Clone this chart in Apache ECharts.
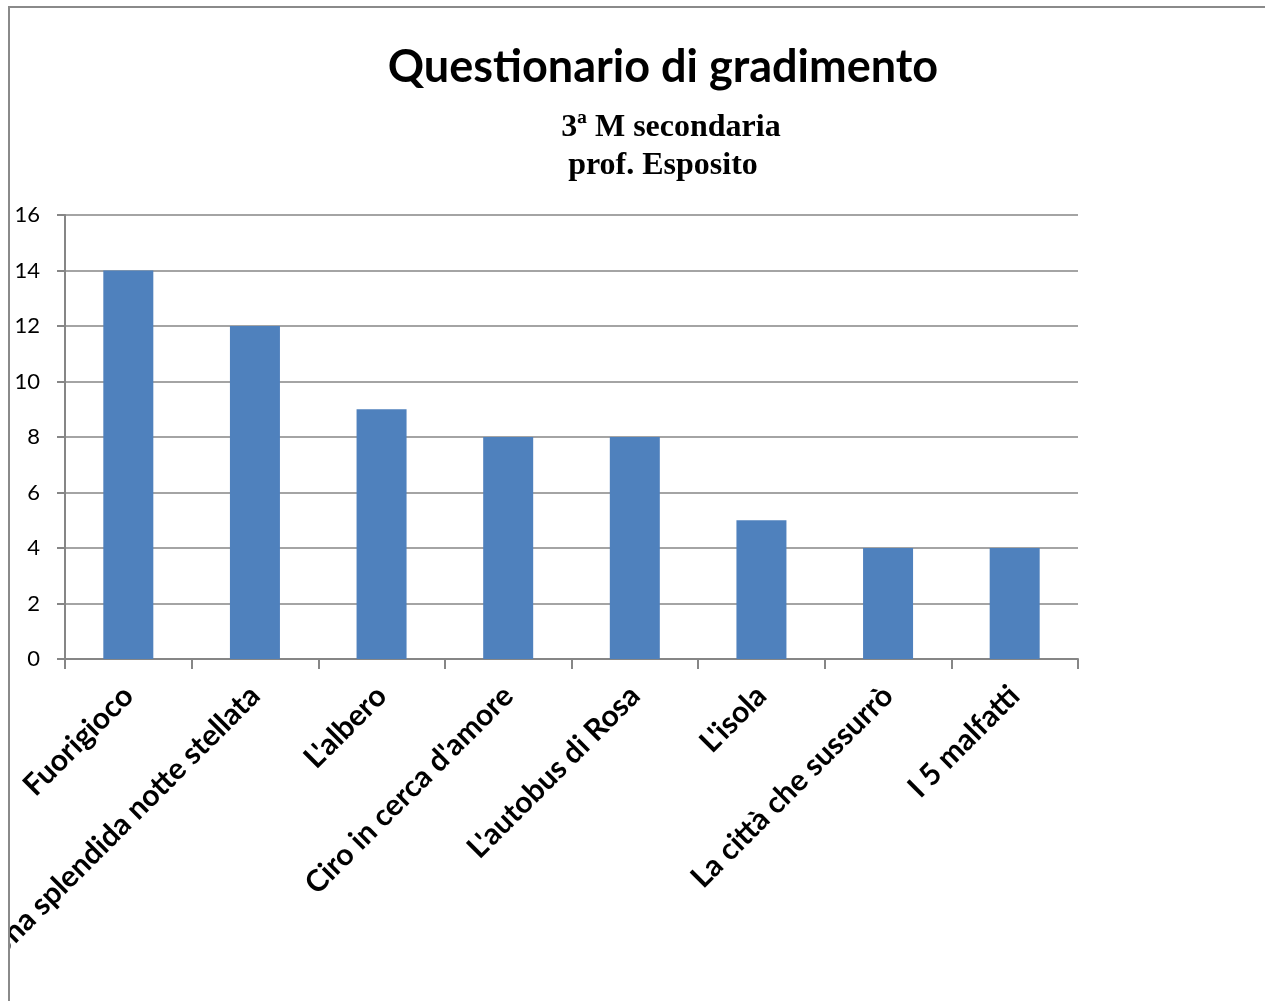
<!DOCTYPE html>
<html>
<head>
<meta charset="utf-8">
<script src="https://cdn.jsdelivr.net/npm/echarts@6/dist/echarts.min.js"></script>
<style>
html,body{margin:0;padding:0;background:#fff;overflow:hidden;}
#frame{position:absolute;left:8px;top:6px;width:1300px;height:1050px;border-left:2px solid #8a8a8a;border-top:2px solid #8a8a8a;overflow:hidden;}
#chart{width:1255px;height:993px;}
</style>
</head>
<body>
<div id="frame"><div id="chart"></div></div>
<script>
const titleText = "Questionario di gradimento";
const subtitleLine1 = "3ª M secondaria";
const subtitleLine2 = "prof. Esposito";
const categories = ["Fuorigioco", "Una splendida notte stellata", "L'albero", "Ciro in cerca d'amore", "L'autobus di Rosa", "L'isola", "La città che sussurrò", "I 5 malfatti"];
const values = [14, 12, 9, 8, 8, 5, 4, 4];
const yTicks = {min: 0, max: 16, interval: 2};

const chart = echarts.init(document.getElementById('chart'), null, {renderer: 'canvas'});
const gray = '#868686';
const subStyle = {fontFamily: 'Liberation Serif', fontWeight: 'bold', fontSize: 32, color: '#000'};
chart.setOption({
  animation: false,
  title: [
    {text: titleText, left: 648, top: 32, textAlign: 'center',
     textStyle: {fontFamily: 'Lato', fontWeight: 'bold', fontSize: 45, color: '#000'}},
    {text: subtitleLine1, left: 656, top: 99, textAlign: 'center', textStyle: subStyle},
    {text: subtitleLine2, left: 648, top: 137, textAlign: 'center', textStyle: subStyle}
  ],
  grid: {left: 55, top: 207, width: 1013, height: 444, containLabel: false, outerBoundsMode: 'none'},
  xAxis: {
    type: 'category', data: categories,
    axisLine: {show: true, lineStyle: {color: gray, width: 2}},
    axisTick: {show: true, length: 10, alignWithLabel: false, lineStyle: {color: gray, width: 2}},
    axisLabel: {interval: 0, rotate: 45, margin: 32, fontFamily: 'Lato', fontWeight: 'bold', fontSize: 30, color: '#000', hideOverlap: false},
    splitLine: {show: false}
  },
  yAxis: {
    type: 'value', min: yTicks.min, max: yTicks.max, interval: yTicks.interval,
    axisLine: {show: true, lineStyle: {color: gray, width: 2}},
    axisTick: {show: true, length: 8, lineStyle: {color: gray, width: 2}},
    axisLabel: {margin: 25, fontFamily: 'Lato', fontSize: 22, color: '#000'},
    splitLine: {show: true, lineStyle: {color: gray, width: 1.5}}
  },
  series: [{
    type: 'bar', data: values, barWidth: 50,
    itemStyle: {color: '#4F81BD'}
  }]
});
</script>
</body>
</html>
